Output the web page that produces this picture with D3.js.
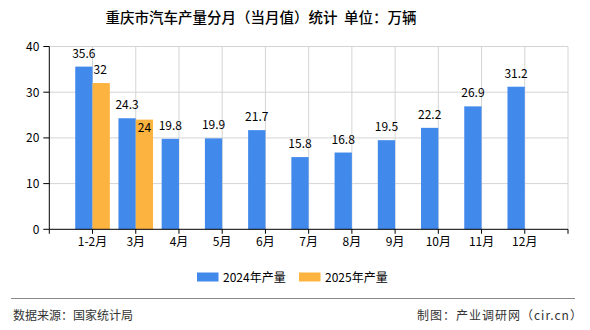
<!DOCTYPE html>
<html><head><meta charset="utf-8">
<script src="https://cdn.jsdelivr.net/npm/d3@7/dist/d3.min.js"></script>
<style>body{margin:0;background:#fff}svg{display:block}</style>
</head><body><svg id="c" width="590" height="330"></svg>
<script>
const categories = ["1-2月","3月","4月","5月","6月","7月","8月","9月","10月","11月","12月"];
const series2024 = [35.6,24.3,19.8,19.9,21.7,15.8,16.8,19.5,22.2,26.9,31.2];
const series2025 = [32,24,null,null,null,null,null,null,null,null,null];
const yTicks = [0,10,20,30,40];
const seriesNames = ["2024年产量","2025年产量"];
const colors = ["#418AEC","#FCB33F"];

const font = "'Noto Sans CJK SC','Noto Sans',sans-serif";
const svg = d3.select("#c");
const L = 49.3, R = 568, T = 46.5, B = 229.3;
const step = (R - L) / (categories.length + 1);
const x = d3.scalePoint().domain(categories).range([L + step, R - step]);
const y = d3.scaleLinear().domain([0, 40]).range([B, T]);
const barW = 17.3;

// grid
const g = svg.append("g");
g.selectAll(".hg").data(yTicks.filter(d => d > 0)).join("line")
  .attr("x1", L).attr("x2", R).attr("y1", d => y(d)).attr("y2", d => y(d))
  .attr("stroke", "#d4d4d4").attr("stroke-width", 1);
const vPos = categories.map(c => x(c)).concat([R]);
g.selectAll(".vg").data(vPos).join("line")
  .attr("x1", d => d).attr("x2", d => d).attr("y1", T).attr("y2", B)
  .attr("stroke", "#d4d4d4").attr("stroke-width", 1);

// bars
const bars = svg.append("g");
bars.selectAll(".b1").data(categories).join("rect")
  .attr("x", c => x(c) - barW).attr("width", barW)
  .attr("y", (c, i) => y(series2024[i])).attr("height", (c, i) => B - y(series2024[i]))
  .attr("fill", colors[0]);
bars.selectAll(".b2").data(categories.filter((c, i) => series2025[i] != null)).join("rect")
  .attr("x", c => x(c)).attr("width", barW)
  .attr("y", (c, i) => y(series2025[i])).attr("height", (c, i) => B - y(series2025[i]))
  .attr("fill", colors[1]);

// axes
const xAxis = svg.append("g");
xAxis.append("line").attr("x1", L).attr("x2", R).attr("y1", B).attr("y2", B).attr("stroke", "#000");
xAxis.selectAll(".xt").data([L].concat(vPos)).join("line")
  .attr("x1", d => d).attr("x2", d => d).attr("y1", B).attr("y2", B + 4.5).attr("stroke", "#000");
xAxis.selectAll(".xl").data(categories).join("text")
  .attr("x", c => x(c)).attr("y", B + 17).attr("text-anchor", "middle")
  .attr("font-family", font).attr("font-size", 12).attr("fill", "#000").text(c => c);

const yAxis = svg.append("g");
yAxis.append("line").attr("x1", L).attr("x2", L).attr("y1", T).attr("y2", B).attr("stroke", "#000");
yAxis.selectAll(".yt").data(yTicks).join("line")
  .attr("x1", L - 6).attr("x2", L).attr("y1", d => y(d)).attr("y2", d => y(d)).attr("stroke", "#000");
yAxis.selectAll(".yl").data(yTicks).join("text")
  .attr("x", L - 10).attr("y", d => y(d) + 4.5).attr("text-anchor", "end")
  .attr("font-family", font).attr("font-size", 12).attr("fill", "#000").text(d => d);

// value labels
const lab = svg.append("g").attr("font-family", font).attr("font-size", 12).attr("fill", "#000");
lab.selectAll(".l1").data(categories).join("text")
  .attr("x", c => x(c) - barW / 2).attr("y", (c, i) => y(series2024[i]) - 9)
  .attr("text-anchor", "middle").text((c, i) => series2024[i]);
categories.forEach((c, i) => {
  const v = series2025[i];
  if (v == null) return;
  const blueTop = y(series2024[i]) - 9;
  let ty = y(v) - 9;
  let tx = x(c) + barW / 2, anchor = "middle";
  if (Math.abs(ty - blueTop) < 12) { ty = y(v) + 12; }
  else { tx = x(c) + 1; anchor = "start"; }
  lab.append("text").attr("x", tx).attr("y", ty).attr("text-anchor", anchor).text(v);
});

// title
svg.append("text").attr("x", 261).attr("y", 23).attr("text-anchor", "middle")
  .attr("font-family", font).attr("font-size", 14.5).attr("font-weight", 500).attr("fill", "#000")
  .attr("xml:space", "preserve").style("white-space", "pre")
  .text("重庆市汽车产量分月（当月值）统计  单位：万辆");

// legend
const leg = svg.append("g").attr("font-family", font).attr("font-size", 12);
const legX = [197, 299];
seriesNames.forEach((n, i) => {
  leg.append("rect").attr("x", legX[i]).attr("y", 272.5).attr("width", 21.5).attr("height", 9).attr("fill", colors[i]);
  leg.append("text").attr("x", legX[i] + 26).attr("y", 281.5).attr("fill", "#000").text(n);
});

// footer
svg.append("line").attr("x1", 11).attr("x2", 575).attr("y1", 298.5).attr("y2", 298.5).attr("stroke", "#888").attr("stroke-width", 1);
svg.append("text").attr("x", 13).attr("y", 320).attr("font-family", font).attr("font-size", 12).attr("fill", "#333").text("数据来源：国家统计局");
svg.append("text").attr("x", 417).attr("y", 320).attr("font-family", font).attr("font-size", 12).attr("letter-spacing", 1).attr("fill", "#333").text("制图：产业调研网（cir.cn）");
</script></body></html>
